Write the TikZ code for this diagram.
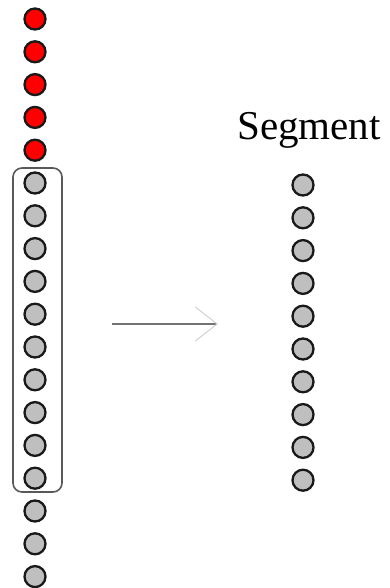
\documentclass[tikz,border=0pt]{standalone}
\usepackage{fontspec}
\setmainfont{Liberation Serif}
\usetikzlibrary{arrows.meta}
\newcommand{\cOn}{red}
\newcommand{\cOff}{black!25}
\newcommand{\gap}{32.8}
\newcommand{\rad}{10.5}

\begin{document}
\begin{tikzpicture}[x=1pt,y=-1pt,
    unit/.style={circle,draw=black!90,line width=2.3pt,minimum size=2*\rad pt,inner sep=0pt},
    window/.style={draw=black!65,line width=1.6pt,rounded corners=9pt}]
    \useasboundingbox (0,0) rectangle (389,588);
    % --- --- --- Input sequence
    \foreach \i in {0,...,4}
        \node[unit,fill=\cOn] (in\i) at (35,19+\i*\gap) {};
    \foreach \i in {5,...,17}
        \node[unit,fill=\cOff] (in\i) at (35,19+\i*\gap) {};
    % --- --- --- Window around ten units
    \draw[window] (13,168) rectangle (62,492);
    % --- --- --- Arrow
    \coordinate (from) at (112,324);
    \coordinate (to) at (218,324);
    \draw[black!55,line width=1.2pt,-{Straight Barb[length=22pt,width=34pt,line width=1pt,color=black!18]}] (from) -- (to);
    % --- --- --- Segment
    \node (title) at (309,130) {\fontsize{41}{48}\selectfont Segment};
    \foreach \i in {0,...,9}
        \node[unit,fill=\cOff] (seg\i) at (303,185+\i*\gap) {};
\end{tikzpicture}
\end{document}
